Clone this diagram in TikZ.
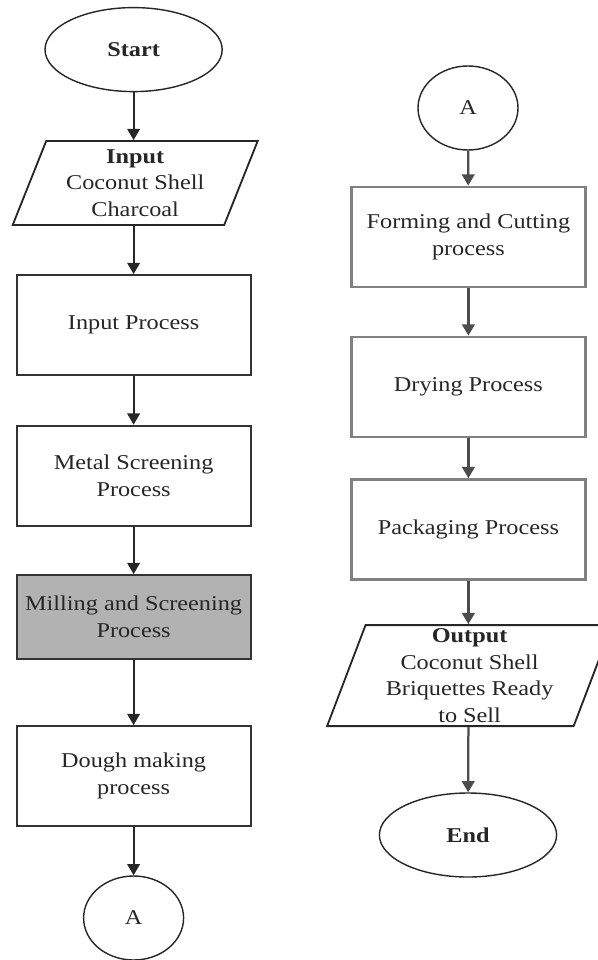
\documentclass[tikz,border=0pt]{standalone}
\usepackage{fontspec}
\setmainfont[FakeStretch=1.15]{Liberation Serif}
\usepackage{tikz}
\usetikzlibrary{positioning, shapes.geometric, arrows.meta}

\begin{document}
\begin{tikzpicture}[
  >={Triangle[width=9pt,length=8pt]},
  every node/.style={font=\fontsize{15}{19}\selectfont, text=black!85},
  procbox/.style={draw=black!80, line width=1.3pt, minimum width=5.85cm, minimum height=2.5cm, align=center, inner sep=2pt},
  procboxr/.style={procbox, draw=black!50, line width=2pt},
  terminal/.style={draw=black!85, line width=1pt, ellipse, minimum width=4.43cm, minimum height=2.1cm, font=\fontsize{15}{19}\selectfont\bfseries},
  joiner/.style={draw=black!85, line width=1pt, ellipse, minimum width=2.5cm, minimum height=2.1cm, inner sep=0pt},
  iobox/.style={draw=black!85, line width=1.3pt, trapezium, trapezium stretches body, align=center, inner sep=1pt},
  flow/.style={->, line width=1.3pt, black!85},
  flowr/.style={->, line width=1.6pt, black!70}
]
\useasboundingbox (0, 0) rectangle (14.925, -24);

% Left column
\node[terminal] (start) at (3.34, -1.24) {Start};
\node[iobox, trapezium left angle=64.5, trapezium right angle=115.5,
      minimum width=6.125cm, minimum height=2.1cm] (input) at (3.38, -4.575)
  {\textbf{Input}\\Coconut Shell\\Charcoal};
\node[procbox] (inproc) at (3.34, -8.125) {Input Process};
\node[procbox] (metal) at (3.34, -11.89) {Metal Screening\\Process};
\node[procbox, fill=black!30, minimum height=2.1cm] (mill) at (3.34, -15.425)
  {Milling and Screening\\Process};
\node[procbox] (dough) at (3.34, -19.4) {Dough making\\process};
\node[joiner] (conA) at (3.34, -22.95) {A};

% Right column
\node[joiner] (conB) at (11.7, -2.7) {A};
\node[procboxr] (form) at (11.71, -5.925) {Forming and Cutting\\process};
\node[procboxr] (dry) at (11.71, -9.675) {Drying Process};
\node[procboxr] (pack) at (11.71, -13.24) {Packaging Process};
\node[iobox, trapezium left angle=68.4, trapezium right angle=111.6,
      minimum width=7.125cm, minimum height=2.525cm] (output) at (11.74, -16.89)
  {\textbf{Output}\\Coconut Shell\\Briquettes Ready\\to Sell};
\node[terminal] (finish) at (11.7, -20.875) {End};

% Arrows
\draw[flow] (start) -- (start |- input.north);
\draw[flow] (start |- input.south) -- (inproc);
\draw[flow] (inproc) -- (metal);
\draw[flow] (metal) -- (mill);
\draw[flow] (mill) -- (dough);
\draw[flow] (dough) -- (conA);

\draw[flowr] (conB) -- (form);
\draw[flowr] (form) -- (dry);
\draw[flowr] (dry) -- (pack);
\draw[flowr] (pack) -- (pack |- output.north);
\draw[flowr] (pack |- output.south) -- (finish);

\end{tikzpicture}
\end{document}
